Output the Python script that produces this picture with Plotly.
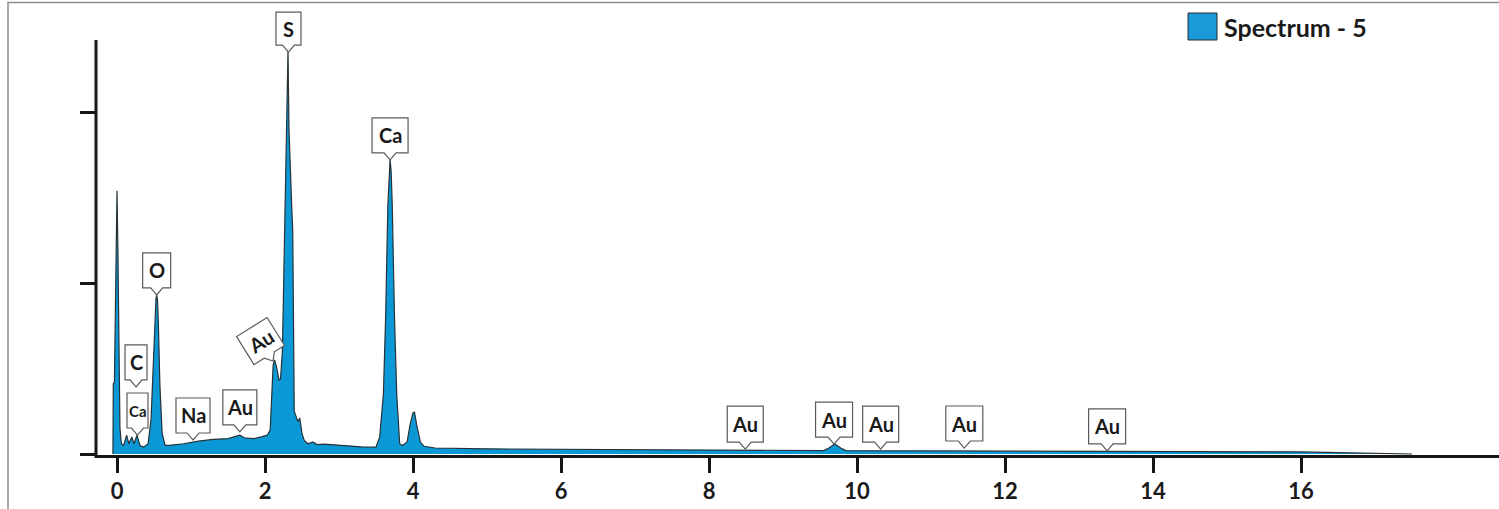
import math
import plotly.graph_objects as go

# ---------------- data ----------------
energy_kev = [
    -0.055, -0.05, -0.035, -0.025, -0.012, 0.0, 0.012, 0.025, 0.04, 0.06,
    0.09, 0.13, 0.16, 0.2, 0.23, 0.27, 0.31, 0.36, 0.42, 0.46, 0.49, 0.515, 0.527, 0.537, 0.547, 0.558, 0.58, 0.61, 0.65,
    0.7, 0.9, 1.1, 1.3, 1.5, 1.6, 1.66, 1.72, 1.85, 1.95, 2.03, 2.07, 2.09, 2.11, 2.13, 2.16, 2.19, 2.21,
    2.235, 2.26, 2.29, 2.311, 2.324, 2.35, 2.36, 2.375, 2.385, 2.395, 2.42, 2.445, 2.47, 2.50, 2.53, 2.58,
    2.65, 2.7, 2.8, 2.9, 3.1, 3.3, 3.5, 3.55, 3.6, 3.63, 3.66, 3.675, 3.69, 3.705, 3.72, 3.75, 3.78, 3.82, 3.86, 3.92,
    3.96, 4.0, 4.02, 4.05, 4.1, 4.15, 4.3, 5, 6, 8, 9, 9.55, 9.62, 9.7, 9.78, 9.85, 11, 13, 15, 16, 16.5, 17, 17.5,
]
counts = [
    0.0, 0.41, 0.42, 0.7, 1.3, 1.54, 1.2, 0.55, 0.15, 0.06,
    0.05, 0.11, 0.06, 0.10, 0.06, 0.11, 0.05, 0.04, 0.06, 0.2, 0.5, 0.82, 0.91, 0.93, 0.9, 0.78, 0.4, 0.12, 0.05,
    0.05, 0.06, 0.075, 0.085, 0.09, 0.1, 0.11, 0.095, 0.09, 0.1, 0.11, 0.14, 0.3, 0.52, 0.55, 0.5, 0.43, 0.44,
    0.6, 1.19, 1.9, 2.36, 1.9, 1.46, 1.46, 1.3, 0.5, 0.25, 0.22, 0.19, 0.21, 0.12, 0.08, 0.06,
    0.07, 0.055, 0.058, 0.055, 0.045, 0.042, 0.04, 0.1, 0.35, 0.8, 1.45, 1.65, 1.72, 1.65, 1.45, 0.8, 0.35, 0.06, 0.05, 0.07,
    0.17, 0.24, 0.245, 0.17, 0.07, 0.045, 0.035, 0.03, 0.028, 0.022, 0.02, 0.02, 0.035, 0.058, 0.035, 0.02, 0.018, 0.016, 0.015, 0.012, 0.008, 0.004, 0.0,
]
x_tick_values = [0, 2, 4, 6, 8, 10, 12, 14, 16]
y_tick_values = [0, 1, 2]

peak_labels = ["C", "Ca", "O", "Na", "Au", "Au", "S", "Ca", "Au", "Au", "Au", "Au", "Au"]
label_energy = [0.257, 0.277, 0.536, 1.027, 1.66, 2.108, 2.317, 3.69, 8.49, 9.69, 10.32, 11.45, 13.38]
label_height = [0.392, 0.111, 0.93, 0.082, 0.129, 0.544, 2.35, 1.72, 0.029, 0.058, 0.029, 0.035, 0.018]

series_name = "Spectrum - 5"

# ---------------- styling ----------------
FILL = "#0b98d6"
OUTLINE = "#263238"
AXIS = "#161616"
FONT = "Lato"

label_width = [22, 21, 28, 34, 34, 36, 25, 36, 36, 37, 36, 37, 37]
label_box_h = [35, 35, 35, 35, 35, 33, 33, 35, 36, 35, 36, 35, 35]
label_font = [20, 15, 20, 20, 20, 20, 20, 20, 20, 20, 20, 20, 20]
label_angle = [0, 0, 0, 0, 0, -32, 0, 0, 0, 0, 0, 0, 0]
POINTER_H = 7
POINTER_W = 6

fig = go.Figure()
fig.add_trace(go.Scatter(
    x=energy_kev, y=counts, mode="lines", fill="tozeroy",
    fillcolor=FILL, line=dict(color=OUTLINE, width=1.2),
    name=series_name, showlegend=False, hoverinfo="x+y",
))


def rot(px, py, ang_deg):
    t = math.radians(-ang_deg)  # plotly textangle is clockwise-positive
    return (px * math.cos(t) - py * math.sin(t), px * math.sin(t) + py * math.cos(t))


shapes = []
annotations = []
for txt, ex, ey, w, h, fs, ang in zip(peak_labels, label_energy, label_height,
                                      label_width, label_box_h, label_font, label_angle):
    pts = [(0, 0), (-POINTER_W, POINTER_H), (-w / 2, POINTER_H), (-w / 2, POINTER_H + h),
           (w / 2, POINTER_H + h), (w / 2, POINTER_H), (POINTER_W, POINTER_H)]
    pts = [rot(a, b, ang) for a, b in pts]
    path = "M" + " L".join(f"{a:.2f},{b:.2f}" for a, b in pts) + " Z"
    shapes.append(dict(
        type="path", xref="x", yref="y", xsizemode="pixel", ysizemode="pixel",
        xanchor=ex, yanchor=ey, path=path, fillcolor="white",
        line=dict(color="#5a5a5a", width=1.2), layer="above",
    ))
    cx, cy = rot(0, POINTER_H + h / 2, ang)
    annotations.append(dict(
        x=ex, y=ey, xref="x", yref="y", text=txt, showarrow=False,
        xanchor="center", yanchor="middle", xshift=cx, yshift=cy, textangle=ang,
        font=dict(family=FONT, size=fs, color="#1a1a1a", weight="bold"),
    ))

# plot geometry (pixels): plot area x 96..1499, y 5..455
L, R, T, B = 96, 0, 5, 54
H = 509 - T - B

# outer grey frame
shapes.append(dict(type="rect", xref="paper", yref="paper",
                   x0=(8 - L) / (1499 - L), x1=1.05, y0=-0.2, y1=1 + 2.5 / H,
                   line=dict(color="#8c8c8c", width=1.5), fillcolor="rgba(0,0,0,0)", layer="below"))
# y axis line (starts at y=40 px)
shapes.append(dict(type="line", xref="paper", yref="paper", x0=0, x1=0,
                   y0=-3 / H, y1=(455 - 40) / H, line=dict(color=AXIS, width=3), layer="above"))
# manual legend
shapes.append(dict(type="rect", xref="paper", yref="paper",
                   x0=(1188 - L) / (1499 - L), x1=(1217 - L) / (1499 - L),
                   y0=(455 - 40) / H, y1=(455 - 13) / H,
                   fillcolor="#1a9ad6", line=dict(color="#2a2a2a", width=1)))
annotations.append(dict(x=(1222 - L) / (1499 - L), y=(455 - 27) / H, xref="paper", yref="paper",
                        text=series_name, showarrow=False, xanchor="left", yanchor="middle",
                        font=dict(family=FONT, size=25, color="#1a1a1a", weight="bold")))

fig.update_layout(
    width=1499, height=509,
    margin=dict(l=L, r=R, t=T, b=B),
    paper_bgcolor="white", plot_bgcolor="white",
    showlegend=False,
    shapes=shapes, annotations=annotations,
    xaxis=dict(
        range=[(96 - 117) / 74, (1499 - 117) / 74],
        tickvals=x_tick_values, ticktext=[str(v) for v in x_tick_values],
        ticks="outside", ticklen=15, tickwidth=3, tickcolor=AXIS,
        showline=True, linewidth=3, linecolor=AXIS,
        showgrid=False, zeroline=False,
        tickfont=dict(family=FONT, size=22, color="#1a1a1a", weight="bold"),
    ),
    yaxis=dict(
        range=[-1 / 171, (454 - 5) / 171],
        tickvals=y_tick_values, showticklabels=False,
        ticks="outside", ticklen=15, tickwidth=3, tickcolor=AXIS,
        showline=False, showgrid=False, zeroline=False,
    ),
)

fig.write_html(
    "out.html",
    config={"displayModeBar": False},
    post_script="document.body.style.margin='0';document.body.style.overflow='hidden';",
)
